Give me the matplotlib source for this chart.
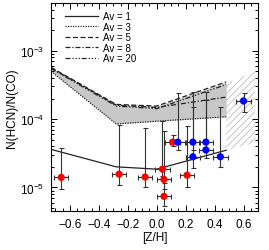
import numpy as np
import matplotlib
matplotlib.use("Agg")
import matplotlib.pyplot as plt
from matplotlib.ticker import MultipleLocator, LogLocator, NullFormatter

# model tracks: [Z/H] nodes and N(HCN)/N(CO) for each Av
model_z = [-0.73, -0.28, 0.0, 0.48]
av1 = [3.6e-5, 2.0e-5, 1.85e-5, 3.5e-5]
av3 = [5.0e-4, 8.5e-5, 9.3e-5, 1.08e-4]
av5 = [5.7e-4, 1.64e-4, 1.55e-4, 3.5e-4]
av8 = [5.6e-4, 1.6e-4, 1.48e-4, 2.1e-4]
av20 = [5.5e-4, 1.55e-4, 1.42e-4, 3.2e-4]

# extrapolated (hatched) region
hatch_z = [0.48, 0.68, 0.68, 0.48]
hatch_y = [3.3e-4, 5.0e-4, 4.5e-5, 3.5e-5]

# red sources
red_z = [-0.66, -0.26, -0.08, 0.04, 0.05, 0.05, 0.11, 0.21]
red_y = [1.4e-5, 1.56e-5, 1.42e-5, 1.85e-5, 1.31e-5, 7.4e-6, 4.6e-5, 1.51e-5]
red_lo = [9.6e-6, 1.1e-5, 1.0e-5, 1.45e-5, 9.4e-6, 5.3e-6, 4.0e-5, 1.03e-5]
red_hi = [3.8e-5, 8.3e-5, 7.5e-5, 9.5e-5, 6.8e-5, 1.15e-5, 5.9e-5, 8.0e-5]

# blue sources
blue_z = [0.145, 0.25, 0.25, 0.34, 0.34, 0.44, 0.6]
blue_y = [4.6e-5, 4.6e-5, 2.81e-5, 4.6e-5, 3.53e-5, 2.81e-5, 1.84e-4]
blue_lo = [3.5e-5, 3.5e-5, 1.93e-5, 3.5e-5, 2.7e-5, 1.97e-5, 1.26e-4]
blue_hi = [2.39e-4, 2.45e-4, 1.48e-4, 2.45e-4, 1.9e-4, 1.48e-4, 2.39e-4]

zerr = 0.05

plt.rcParams['font.family'] = ['Liberation Sans', 'DejaVu Sans']
plt.rcParams['hatch.color'] = '#bdbdbd'
plt.rcParams['hatch.linewidth'] = 0.6

fig = plt.figure(figsize=(2.69, 2.51), dpi=100)
ax = fig.add_axes([0.19, 0.155, 0.769, 0.829])

tracks = [av3, av5, av8, av20]
lo = np.min(tracks, axis=0)
hi = np.max(tracks, axis=0)
ax.fill_between(model_z, lo, hi, color='#c8c8c8', lw=0, zorder=1)
ax.fill(hatch_z, hatch_y, facecolor='none', edgecolor='#bdbdbd', hatch='/////', lw=0, zorder=1)

ax.plot(model_z, av1, color='#222222', lw=0.9, ls='-', label='Av = 1', zorder=2)
ax.plot(model_z, av3, color='#222222', lw=0.9, ls=(0, (1, 1)), label='Av = 3', zorder=2)
ax.plot(model_z, av5, color='#222222', lw=0.9, ls=(0, (4, 2)), label='Av = 5', zorder=2)
ax.plot(model_z, av8, color='#222222', lw=0.9, ls=(0, (4, 1.5, 1, 1.5)), label='Av = 8', zorder=2)
ax.plot(model_z, av20, color='#222222', lw=0.9, ls=(0, (4, 1.5, 1, 1.5, 1, 1.5, 1, 1.5)), label='Av = 20', zorder=2)

def points(z, y, ylo, yhi, col):
    y = np.array(y)
    yerr = [y - np.array(ylo), np.array(yhi) - y]
    ax.errorbar(z, y, yerr=yerr, xerr=zerr, fmt='none', ecolor='#333333',
                elinewidth=0.8, capsize=1.8, capthick=0.8, zorder=3)
    ax.scatter(z, y, s=27, color=col, edgecolor='none', zorder=4)

points(red_z, red_y, red_lo, red_hi, '#ff0000')
points(blue_z, blue_y, blue_lo, blue_hi, '#0000ff')

ax.set_yscale('log')
ax.set_xlim(-0.73, 0.7)
ax.set_ylim(4.5e-6, 5e-3)
ax.xaxis.set_major_locator(MultipleLocator(0.2))
ax.xaxis.set_minor_locator(MultipleLocator(0.05))
ax.yaxis.set_major_locator(LogLocator(base=10))
ax.yaxis.set_minor_locator(LogLocator(base=10, subs=np.arange(2, 10)))
ax.yaxis.set_minor_formatter(NullFormatter())
ax.tick_params(which='both', direction='in', top=True, right=True, labelsize=8.5, width=0.7)
ax.tick_params(which='major', length=4, pad=5)
ax.tick_params(which='minor', length=2)
for s in ax.spines.values():
    s.set_linewidth(0.8)

ax.set_xlabel('[Z/H]', fontsize=8.5, labelpad=1)
ax.set_ylabel('N(HCN)/N(CO)', fontsize=8.5, labelpad=1)

ax.legend(loc='upper left', bbox_to_anchor=(0.05, 0.98), frameon=False, fontsize=7,
          handlelength=3.4, labelspacing=0.05, handletextpad=0.5, borderaxespad=0.0)

fig.savefig('out.png', dpi=100)
